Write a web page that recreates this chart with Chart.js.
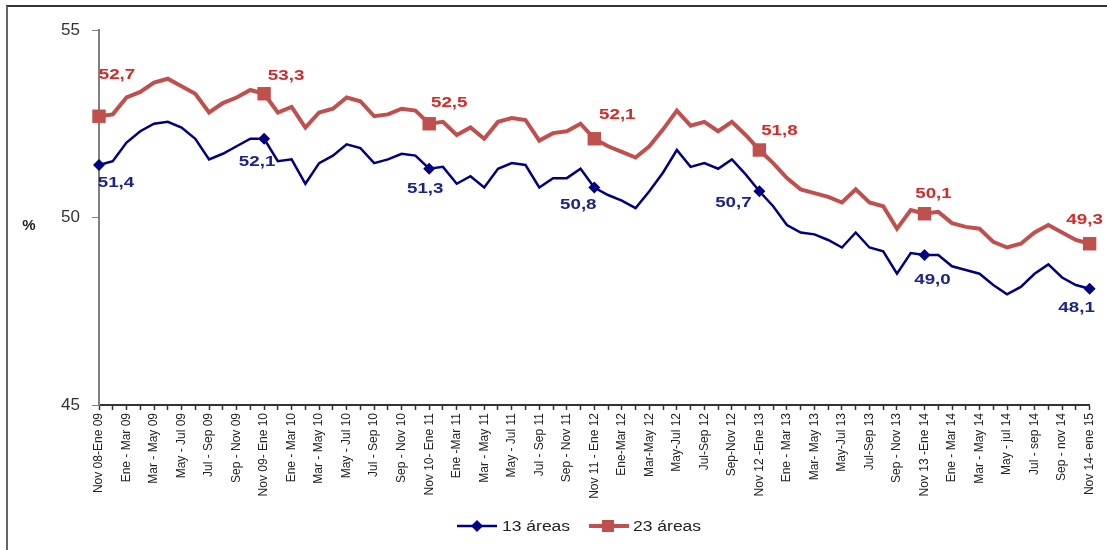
<!DOCTYPE html>
<html>
<head>
<meta charset="utf-8">
<script src="https://cdn.jsdelivr.net/npm/chart.js@4.4.1/dist/chart.umd.min.js"></script>
<style>
html, body { margin: 0; padding: 0; background: #fff; overflow: hidden; }
#frame { position: absolute; left: 6px; top: 5px; width: 1200px; height: 700px;
         border-top: 2px solid #333; border-left: 2px solid #666; }
#wrap  { position: absolute; left: 0; top: 0; width: 1107px; height: 550px; }
</style>
</head>
<body>
<div id="frame"></div>
<div id="wrap"><canvas id="chart" width="1107" height="550"></canvas></div>
<script>
/* rolling quarter labels, one every two months */
var tickLabels = [
  'Nov 08-Ene 09', 'Ene - Mar 09', 'Mar - May 09', 'May - Jul 09', 'Jul - Sep 09', 'Sep - Nov 09',
  'Nov 09- Ene 10', 'Ene - Mar 10', 'Mar - May 10', 'May - Jul 10', 'Jul - Sep 10', 'Sep - Nov 10',
  'Nov 10- Ene 11', 'Ene -Mar 11', 'Mar - May 11', 'May - Jul 11', 'Jul - Sep 11', 'Sep - Nov 11',
  'Nov 11 - Ene 12', 'Ene-Mar 12', 'Mar-May 12', 'May-Jul 12', 'Jul-Sep 12', 'Sep-Nov 12',
  'Nov 12 -Ene 13', 'Ene - Mar 13', 'Mar- May 13', 'May-Jul 13', 'Jul-Sep 13', 'Sep - Nov 13',
  'Nov 13 -Ene 14', 'Ene - Mar 14', 'Mar - May 14', 'May - jul 14', 'Jul - sep 14', 'Sep - nov 14',
  'Nov 14- ene 15'
];

var seriesNames = ['13 áreas', '23 áreas'];

var areas13 = [
  51.4, 51.5, 52.0, 52.3, 52.5, 52.55, 52.4, 52.1, 51.55, 51.7, 51.9, 52.1,
  52.1, 51.5, 51.55, 50.9, 51.45, 51.65, 51.95, 51.85, 51.45, 51.55, 51.7, 51.65,
  51.3, 51.35, 50.9, 51.1, 50.8, 51.3, 51.45, 51.4, 50.8, 51.05, 51.05, 51.3,
  50.8, 50.6, 50.45, 50.25, 50.7, 51.2, 51.8, 51.35, 51.45, 51.3, 51.55, 51.15,
  50.7, 50.3, 49.8, 49.6, 49.55, 49.4, 49.2, 49.6, 49.2, 49.1, 48.5, 49.05,
  49.0, 49.0, 48.7, 48.6, 48.5, 48.2, 47.95, 48.15, 48.5, 48.75, 48.4, 48.2,
  48.1
];

var areas23 = [
  52.7, 52.75, 53.2, 53.35, 53.6, 53.7, 53.5, 53.3, 52.8, 53.05, 53.2, 53.4,
  53.3, 52.8, 52.95, 52.4, 52.8, 52.9, 53.2, 53.1, 52.7, 52.75, 52.9, 52.85,
  52.5, 52.55, 52.2, 52.4, 52.1, 52.55, 52.65, 52.6, 52.05, 52.25, 52.3, 52.5,
  52.1, 51.9, 51.75, 51.6, 51.9, 52.35, 52.85, 52.45, 52.55, 52.3, 52.55, 52.2,
  51.8, 51.45, 51.05, 50.75, 50.65, 50.55, 50.4, 50.75, 50.4, 50.3, 49.7, 50.2,
  50.1, 50.15, 49.85, 49.75, 49.7, 49.35, 49.2, 49.3, 49.6, 49.8, 49.6, 49.4,
  49.3
];

/* points that carry a marker and a value label (every November-January) */
var markedIdx = [0, 12, 24, 36, 48, 60, 72];

var FONT = "'Liberation Sans', Arial, sans-serif";
var BLUE = '#000080', RED = '#c0504d';

// 73 categories: named every other month, the rest blank
var categories = [];
tickLabels.forEach(function(l, i) {
  categories.push(l);
  if (i < tickLabels.length - 1) categories.push('');
});

function markRadius(r) {
  return function(ctx) { return markedIdx.indexOf(ctx.dataIndex) >= 0 ? r : 0; };
}

/* label offsets (px, text centre relative to the point), per marked point */
var labelOffsets = {
  0: [[17, 18], [-7, 23], [-4, 20], [-16, 17], [-26, 12], [8, 25], [-13, 19]],
  1: [[18, -41], [22, -18], [20, -21], [23, -24], [20, -19], [9, -20], [-5, -24]]
};
var labelColors = { 0: '#1c2487', 1: '#d42a2a' };

var extrasPlugin = {
  id: 'extras',
  afterDatasetsDraw: function(chart) {
    var ctx = chart.ctx;
    ctx.save();
    ctx.font = 'bold 15px ' + FONT;
    ctx.textAlign = 'center';
    ctx.textBaseline = 'middle';
    [0, 1].forEach(function(d) {
      var meta = chart.getDatasetMeta(d);
      var vals = chart.data.datasets[d].data;
      ctx.fillStyle = labelColors[d];
      markedIdx.forEach(function(idx, k) {
        var pt = meta.data[idx];
        var off = labelOffsets[d][k];
        ctx.save();
        ctx.translate(pt.x + off[0], pt.y + off[1]);
        ctx.scale(1.25, 1);
        ctx.fillText(vals[idx].toFixed(1).replace('.', ','), 0, 0);
        ctx.restore();
      });
    });
    ctx.restore();
  },
  afterDraw: function(chart) {
    var ctx = chart.ctx;
    ctx.save();
    // unit label
    ctx.fillStyle = '#222';
    ctx.font = 'bold 15px ' + FONT;
    ctx.textAlign = 'center';
    ctx.textBaseline = 'middle';
    ctx.fillText('%', 29, 226);

    // legend
    var y = 526;
    ctx.strokeStyle = BLUE; ctx.lineWidth = 2.5;
    ctx.beginPath(); ctx.moveTo(457, y); ctx.lineTo(497, y); ctx.stroke();
    ctx.fillStyle = BLUE;
    ctx.beginPath(); ctx.moveTo(477, y - 6); ctx.lineTo(483, y); ctx.lineTo(477, y + 6); ctx.lineTo(471, y); ctx.closePath(); ctx.fill();

    ctx.strokeStyle = RED; ctx.lineWidth = 4;
    ctx.beginPath(); ctx.moveTo(589, y); ctx.lineTo(629, y); ctx.stroke();
    ctx.fillStyle = RED;
    ctx.fillRect(602, y - 6, 12, 12);

    ctx.fillStyle = '#222';
    ctx.font = '14px ' + FONT;
    ctx.textAlign = 'left';
    [[502, seriesNames[0]], [633, seriesNames[1]]].forEach(function(t) {
      ctx.save();
      ctx.translate(t[0], y + 1);
      ctx.scale(1.25, 1);
      ctx.fillText(t[1], 0, 0);
      ctx.restore();
    });
    ctx.restore();
  }
};

new Chart(document.getElementById('chart'), {
  type: 'line',
  data: {
    labels: categories,
    datasets: [{
      label: seriesNames[0],
      data: areas13,
      borderColor: BLUE,
      backgroundColor: BLUE,
      borderWidth: 2.5,
      pointStyle: 'rectRot',
      pointRadius: markRadius(6),
      pointHoverRadius: markRadius(6),
      pointBorderWidth: 0,
      tension: 0,
      clip: false
    }, {
      label: seriesNames[1],
      data: areas23,
      borderColor: RED,
      backgroundColor: RED,
      borderWidth: 4,
      pointStyle: 'rect',
      pointRadius: markRadius(9.5),
      pointHoverRadius: markRadius(9.5),
      pointBorderWidth: 0,
      tension: 0,
      clip: false
    }]
  },
  options: {
    responsive: false,
    animation: false,
    events: [],
    layout: { padding: { top: 30, right: 16, bottom: 0, left: 0 } },
    plugins: {
      legend: { display: false },
      tooltip: { enabled: false }
    },
    scales: {
      x: {
        offset: false,
        afterFit: function(s) { s.height = 145; },
        border: { color: '#333', width: 2 },
        grid: { drawOnChartArea: false, drawTicks: true, tickLength: 5, tickColor: '#333', tickWidth: 1.5 },
        ticks: {
          autoSkip: false, minRotation: 90, maxRotation: 90, padding: 3,
          color: '#222', font: { family: FONT, size: 12 }
        }
      },
      y: {
        min: 45, max: 55,
        afterFit: function(s) { s.width = 99; },
        border: { color: '#808080', width: 2 },
        grid: { drawOnChartArea: false, drawTicks: true, tickLength: 7, tickColor: '#808080' },
        ticks: { stepSize: 5, padding: 12, color: '#333', font: { family: FONT, size: 17 } }
      }
    }
  },
  plugins: [extrasPlugin]
});
</script>
</body>
</html>
